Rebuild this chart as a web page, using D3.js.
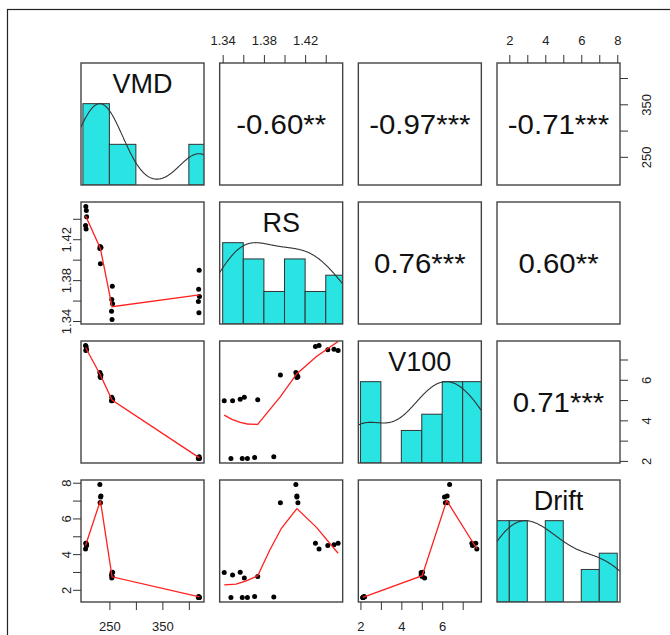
<!DOCTYPE html>
<html><head><meta charset="utf-8">
<script src="https://cdn.jsdelivr.net/npm/d3@7"></script>
<style>body{margin:0;background:#fff} svg{display:block} text{font-family:"Liberation Sans",Arial,sans-serif}</style>
</head><body><svg id="c" width="670" height="635"></svg>
<script>
// ---------------- data ----------------
const varNames = ["VMD", "RS", "V100", "Drift"];
const VMD   = [206, 205, 207, 206.5, 205.5, 233, 232, 234, 233.5, 232.5, 255, 254, 256, 254.5, 255.5, 419, 418, 420, 418.5, 419.5];
const RS    = [1.430, 1.4335, 1.442, 1.448, 1.452, 1.396, 1.411, 1.412, 1.412, 1.413, 1.3415, 1.3496, 1.357, 1.361, 1.374, 1.348, 1.359, 1.364, 1.371, 1.3896];
const V100  = [7.64, 7.69, 7.48, 7.51, 7.45, 6.24, 6.36, 6.24, 6.11, 6.15, 4.97, 4.97, 5.04, 5.14, 5.02, 2.12, 2.12, 2.12, 2.17, 2.20];
const Drift = [4.61, 4.29, 4.48, 4.52, 4.61, 6.88, 7.90, 7.26, 7.20, 6.88, 2.97, 2.83, 2.99, 2.66, 2.75, 1.57, 1.57, 1.57, 1.62, 1.60];

// histogram breaks (Sturges / pretty)
const vmdBreaks   = [200, 250, 300, 350, 400, 450];
const rsBreaks    = [1.34, 1.36, 1.38, 1.40, 1.42, 1.44, 1.46];
const v100Breaks  = [2, 3, 4, 5, 6, 7, 8];
const driftBreaks = [1, 2, 3, 4, 5, 6, 7, 8];

// correlation labels (upper panels)
const corrRows = [0, 0, 0, 1, 1, 2];
const corrCols = [1, 2, 3, 2, 3, 3];
const corrText = ["-0.60**", "-0.97***", "-0.71***", "0.76***", "0.60**", "0.71***"];

// lowess smoother values (x, y)
const fitRSbyVMD     = [[205, 1.443], [233, 1.411], [255, 1.354], [420, 1.3655]];
const fitV100byVMD   = [[205, 7.59], [233, 6.24], [255, 5.0], [420, 2.15]];
const fitDriftbyVMD  = [[205, 4.48], [233, 7.0], [255, 2.73], [420, 1.6]];
const fitV100byRS    = [[1.3415, 4.26], [1.349, 4.05], [1.357, 3.9], [1.364, 3.82], [1.374, 3.8], [1.396, 5.17], [1.412, 6.3], [1.431, 7.15], [1.452, 7.89]];
const fitDriftbyRS   = [[1.3415, 2.28], [1.353, 2.32], [1.363, 2.5], [1.374, 2.79], [1.3855, 4.2], [1.397, 5.45], [1.412, 6.55], [1.431, 5.5], [1.452, 4.05]];
const fitDriftbyV100 = [[2.12, 1.57], [5.02, 2.79], [6.22, 7.0], [7.69, 4.3]];

// axis ticks and labels
const rsTicks = [1.34, 1.36, 1.38, 1.40, 1.42, 1.44];
const rsLabels = [1.34, 1.38, 1.42];
const driftTicks = [2, 3, 4, 5, 6, 7, 8];
const driftLabels = [2, 4, 6, 8];
const vmdTicks = [250, 300, 350, 400];
const vmdLabels = [250, 350];
const v100Ticks = [2, 3, 4, 5, 6, 7];
const v100Labels = [2, 4, 6];

// ---------------- drawing ----------------
const data = [VMD, RS, V100, Drift];
const breaks = [vmdBreaks, rsBreaks, v100Breaks, driftBreaks];
const fits = {"1,0": fitRSbyVMD, "2,0": fitV100byVMD, "3,0": fitDriftbyVMD,
              "2,1": fitV100byRS, "3,1": fitDriftbyRS, "3,2": fitDriftbyV100};

const svg = d3.select("#c");
const PW = 123, PH = 122;
const colX = j => 81 + j * 138.67;
const rowY = i => 63 + i * 139;

// outer frame
svg.append("rect").attr("x", 7.5).attr("y", 9.5).attr("width", 700).attr("height", 700)
  .attr("fill", "none").attr("stroke", "#222").attr("stroke-width", 1.2);

function padded(v) {
  const [a, b] = d3.extent(v); const r = b - a;
  return [a - 0.04 * r, b + 0.04 * r];
}
const xs = data.map((v, j) => d3.scaleLinear().domain(padded(v)).range([colX(j), colX(j) + PW]));
const ys = data.map((v, i) => d3.scaleLinear().domain(padded(v)).range([rowY(i) + PH, rowY(i)]));

const defs = svg.append("defs");
for (let i = 0; i < 4; i++) for (let j = 0; j < 4; j++) {
  defs.append("clipPath").attr("id", `cp${i}${j}`).append("rect")
    .attr("x", colX(j)).attr("y", rowY(i)).attr("width", PW).attr("height", PH);
}

function kde(v) {
  const n = v.length;
  const s = d3.deviation(v);
  const sorted = v.slice().sort(d3.ascending);
  const iqr = d3.quantileSorted(sorted, 0.75) - d3.quantileSorted(sorted, 0.25);
  const h = Math.min(s, iqr / 1.34) || s;
  const bw = 1.2 * 1.06 * h * Math.pow(n, -0.2);
  const [a, b] = d3.extent(v);
  const lo = a - 3 * bw, hi = b + 3 * bw;
  const pts = [];
  for (let k = 0; k < 512; k++) {
    const x = lo + (hi - lo) * k / 511;
    let d = 0;
    for (const xi of v) { const z = (x - xi) / bw; d += Math.exp(-0.5 * z * z); }
    pts.push([x, d]);
  }
  const m = d3.max(pts, p => p[1]);
  return pts.map(p => [p[0], p[1] / m]);
}

for (let i = 0; i < 4; i++) {
  for (let j = 0; j < 4; j++) {
    const g = svg.append("g");
    const inner = g.append("g").attr("clip-path", `url(#cp${i}${j})`);
    if (i === j) {
      const v = data[i], br = breaks[i];
      const counts = br.slice(0, -1).map((b0, k) => v.filter(x => (k === 0 ? x >= b0 : x > b0) && x <= br[k + 1]).length);
      const mx = d3.max(counts);
      const hy = d3.scaleLinear().domain([0, 1.5]).range([rowY(i) + PH, rowY(i)]);
      inner.selectAll("rect.bar").data(counts.map((c, k) => ({c, a: br[k], b: br[k + 1]})))
        .join("rect").attr("class", "bar")
        .attr("x", d => xs[j](d.a)).attr("width", d => xs[j](d.b) - xs[j](d.a))
        .attr("y", d => hy(d.c / mx)).attr("height", d => hy(0) - hy(d.c / mx))
        .attr("fill", d => d.c ? "#2ae3e3" : "none").attr("stroke", d => d.c ? "#333" : "none").attr("stroke-width", 1);
      inner.append("path").datum(kde(v))
        .attr("d", d3.line().x(p => xs[j](p[0])).y(p => hy(p[1])))
        .attr("fill", "none").attr("stroke", "#333").attr("stroke-width", 1.1);
      g.append("text").attr("x", colX(j) + PW / 2).attr("y", rowY(i) + 30)
        .attr("text-anchor", "middle").attr("font-size", 27).attr("fill", "#111").text(varNames[i]);
    } else if (i > j) {
      const pts = data[j].map((x, k) => [x, data[i][k]]);
      inner.selectAll("circle").data(pts).join("circle")
        .attr("cx", p => xs[j](p[0])).attr("cy", p => ys[i](p[1])).attr("r", 2.5).attr("fill", "#000");
      inner.append("path").datum(fits[`${i},${j}`])
        .attr("d", d3.line().x(p => xs[j](p[0])).y(p => ys[i](p[1])))
        .attr("fill", "none").attr("stroke", "#ff2020").attr("stroke-width", 1.3);
    }
    g.append("rect").attr("x", colX(j)).attr("y", rowY(i)).attr("width", PW).attr("height", PH)
      .attr("fill", "none").attr("stroke", "#444").attr("stroke-width", 1.4);
  }
}

corrText.forEach((t, k) => {
  const i = corrRows[k], j = corrCols[k];
  const cx = colX(j) + PW / 2, cy = rowY(i) + PH / 2 + 10;
  svg.append("text").attr("transform", `translate(${cx},${cy}) scale(1.09,1)`)
    .attr("text-anchor", "middle").attr("font-size", 27).attr("fill", "#111").text(t);
});

// axes
function styleAxis(sel) {
  sel.select(".domain").remove();
  sel.selectAll(".tick line").attr("stroke", "#333").attr("stroke-width", 1);
  sel.selectAll(".tick text").attr("font-size", 13).attr("fill", "#222")
    .style("font-family", '"Liberation Sans", Arial, sans-serif');
}
const fmt = labels => d => labels.some(l => Math.abs(l - d) < 1e-9) ? String(d) : "";

// top: RS (col 1), Drift (col 3)
[[1, rsTicks, rsLabels], [3, driftTicks, driftLabels]].forEach(([j, t, l]) => {
  const a = svg.append("g").attr("transform", `translate(0,${rowY(0)})`)
    .call(d3.axisTop(xs[j]).tickValues(t).tickFormat(fmt(l)).tickSize(8).tickPadding(10));
  styleAxis(a);
});
// bottom: VMD (col 0), V100 (col 2)
[[0, vmdTicks, vmdLabels], [2, v100Ticks, v100Labels]].forEach(([j, t, l]) => {
  const a = svg.append("g").attr("transform", `translate(0,${rowY(3) + PH})`)
    .call(d3.axisBottom(xs[j]).tickValues(t).tickFormat(fmt(l)).tickSize(8).tickPadding(12));
  styleAxis(a);
});
// left: RS (row 1), Drift (row 3) - rotated labels
[[1, rsTicks, rsLabels], [3, driftTicks, driftLabels]].forEach(([i, t, l]) => {
  const a = svg.append("g").attr("transform", `translate(${colX(0)},0)`)
    .call(d3.axisLeft(ys[i]).tickValues(t).tickFormat(fmt(l)).tickSize(8).tickPadding(6));
  styleAxis(a);
  a.selectAll(".tick text").attr("text-anchor", "middle").attr("x", null).attr("dy", null)
    .attr("transform", "translate(-15,0) rotate(-90)").attr("dominant-baseline", "central");
});
// right: VMD (row 0), V100 (row 2)
[[0, vmdTicks, vmdLabels], [2, v100Ticks, v100Labels]].forEach(([i, t, l]) => {
  const a = svg.append("g").attr("transform", `translate(${colX(3) + PW},0)`)
    .call(d3.axisRight(ys[i]).tickValues(t).tickFormat(fmt(l)).tickSize(8).tickPadding(6));
  styleAxis(a);
  a.selectAll(".tick text").attr("text-anchor", "middle").attr("x", null).attr("dy", null)
    .attr("transform", "translate(26,0) rotate(-90)").attr("dominant-baseline", "central");
});
</script></body></html>
